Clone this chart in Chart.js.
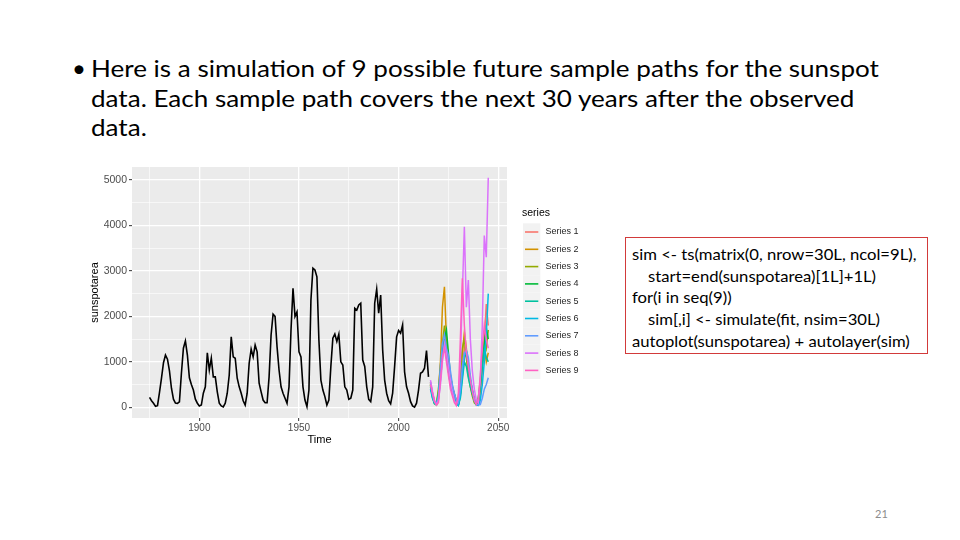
<!DOCTYPE html>
<html>
<head>
<meta charset="utf-8">
<script src="https://cdn.jsdelivr.net/npm/chart.js@4.4.0/dist/chart.umd.min.js"></script>
<style>
  html, body { margin: 0; padding: 0; background: #fff; }
  #slide { position: relative; width: 960px; height: 540px; overflow: hidden; font-family: Lato, "Liberation Sans", sans-serif; color: #000; }
  #dot { position: absolute; left: 72px; top: 53px; font-size: 24px; line-height: 29.5px; }
  #bullet { position: absolute; left: 91px; top: 53px; font-size: 24px; line-height: 29.5px; white-space: nowrap; transform: scaleX(1.085); transform-origin: 0 0; }
  #code { position: absolute; left: 625px; top: 237px; width: 301px; height: 115px; border: 1px solid #D23A3A; }
  #code div { position: absolute; left: 6px; font-size: 16px; line-height: 21.7px; white-space: pre; transform: scaleX(1.04); transform-origin: 0 0; }
  #page { position: absolute; left: 875px; top: 507px; font-size: 11px; color: #8C8C8C; }
  #chart { position: absolute; left: 0; top: 0; }
</style>
</head>
<body>
<div id="slide">
  <div id="dot">&bull;</div>
  <div id="bullet">Here is a simulation of 9 possible future sample paths for the sunspot<br>data. Each sample path covers the next 30 years after the observed<br>data.</div>
  <div id="code">
    <div style="top:5px">sim &lt;- ts(matrix(0, nrow=30L, ncol=9L),</div>
    <div style="top:26.7px;left:22px">start=end(sunspotarea)[1L]+1L)</div>
    <div style="top:48.4px">for(i in seq(9))</div>
    <div style="top:70.1px;left:22px">sim[,i] &lt;- simulate(fit, nsim=30L)</div>
    <div style="top:91.8px">autoplot(sunspotarea) + autolayer(sim)</div>
  </div>
  <div id="page">21</div>
  <canvas id="chart" width="960" height="540"></canvas>
</div>
<script>
// observed series, one value per year starting 1875
const obsStart = 1875;
const sunspotArea = [
  220, 145, 90, 20, 35,
  330, 640, 980, 1150, 1060, 800, 420, 180, 95, 85,
  120, 750, 1300, 1460, 1150, 650, 500, 380, 180, 90,
  30, 50, 310, 450, 1200, 820, 1080, 670, 670, 340,
  90, 30, 10, 90, 310, 710, 1550, 1110, 1080, 640,
  450, 310, 145, 50, 310, 970, 1280, 1110, 1370, 1220,
  530, 340, 160, 100, 100, 670, 1590, 2050, 2000, 1330,
  820, 450, 310, 200, 90, 450, 1700, 2620, 2000, 2100,
  1220, 1110, 450, 160, 15, 380, 2360, 3060, 3020, 2870,
  1480, 600, 380, 235, 50, 160, 900, 1520, 1610, 1450,
  1610, 1000, 930, 450, 380, 175, 200, 380, 2180, 2140,
  2250, 2290, 1040, 900, 450, 175, 125, 450, 2290, 2600,
  2070, 2470, 1260, 600, 310, 145, 75, 310, 900, 1550,
  1690, 1630, 1810, 780, 450, 310, 125, 30, 5, 90,
  380, 750, 780, 860, 1250, 670
];

// simulated paths, 30 years starting 2016
const simStart = 2016;
const sim1 = [560, 320, 150, 70, 200, 700, 1200, 1550, 1300, 900, 600, 400, 200, 80, 60, 300, 900, 1300, 1100, 800, 600, 400, 200, 80, 60, 300, 800, 1500, 2270, 1800];
const sim2 = [520, 280, 110, 60, 350, 1000, 2200, 2650, 1500, 1000, 700, 450, 250, 120, 100, 600, 1200, 1650, 1300, 800, 500, 300, 150, 60, 80, 400, 900, 1300, 1000, 1200];
const sim3 = [480, 250, 100, 90, 400, 900, 1400, 1800, 1300, 900, 600, 350, 200, 80, 150, 700, 1300, 1500, 1100, 700, 450, 250, 100, 60, 200, 600, 1000, 1500, 1300, 1700];
const sim4 = [500, 220, 80, 50, 250, 700, 1300, 1500, 1700, 1200, 700, 450, 300, 120, 60, 300, 800, 1100, 1200, 900, 600, 350, 150, 80, 120, 500, 1000, 1400, 1750, 1500];
const sim5 = [450, 260, 100, 70, 300, 800, 1200, 1350, 1100, 800, 500, 350, 280, 150, 50, 200, 600, 1000, 900, 650, 450, 300, 150, 90, 200, 500, 900, 1300, 1100, 1000];
const sim6 = [400, 200, 90, 60, 200, 600, 1100, 1400, 1200, 800, 500, 300, 180, 60, 40, 250, 700, 1100, 1250, 900, 600, 350, 150, 50, 40, 150, 500, 1000, 1600, 2500];
const sim7 = [550, 300, 120, 70, 250, 900, 1400, 1600, 1300, 1150, 800, 500, 300, 150, 100, 400, 900, 1200, 1250, 1100, 700, 400, 200, 80, 50, 60, 200, 400, 500, 650];
const sim8 = [600, 350, 150, 60, 150, 500, 1000, 1400, 1200, 900, 600, 350, 150, 60, 200, 1000, 2500, 3970, 2200, 2800, 1500, 800, 400, 150, 100, 600, 1800, 3780, 3300, 5050];
const sim9 = [500, 300, 130, 50, 100, 600, 1100, 1300, 1000, 700, 400, 250, 100, 40, 300, 1500, 2840, 1800, 1200, 900, 600, 350, 150, 60, 200, 700, 1300, 1800, 1500, 1300];

const simPaths = [sim1, sim2, sim3, sim4, sim5, sim6, sim7, sim8, sim9];
const seriesNames = ['Series 1', 'Series 2', 'Series 3', 'Series 4', 'Series 5', 'Series 6', 'Series 7', 'Series 8', 'Series 9'];
const seriesColors = ['#F8766D', '#D39200', '#93AA00', '#00BA38', '#00C19F', '#00B9E3', '#619CFF', '#DB72FB', '#FF61C3'];

// grid positions (major + minor) and which ones get a label
const xTickValues = [1875, 1900, 1925, 1950, 1975, 2000, 2025, 2050];
const yTickValues = [0, 500, 1000, 1500, 2000, 2500, 3000, 3500, 4000, 4500, 5000];
const xMajorStep = 50;
const yMajorStep = 1000;

function toPoints(start, values) {
  return values.map((v, i) => ({ x: start + i, y: v }));
}

const datasets = [{
  label: 'sunspotarea',
  data: toPoints(obsStart, sunspotArea),
  borderColor: '#000000',
  borderWidth: 1.6,
  order: 100
}];
simPaths.forEach((vals, i) => {
  datasets.push({
    label: seriesNames[i],
    data: toPoints(simStart, vals),
    borderColor: seriesColors[i],
    borderWidth: 1.5,
    order: 9 - i
  });
});

// grey panel like ggplot
const panelBg = {
  id: 'panelBg',
  beforeDraw(chart) {
    const { ctx, chartArea: a } = chart;
    ctx.save();
    ctx.fillStyle = '#EBEBEB';
    ctx.fillRect(a.left, a.top, a.right - a.left, a.bottom - a.top);
    ctx.restore();
  }
};

// legend drawn the ggplot way
const ggLegend = {
  id: 'ggLegend',
  afterDraw(chart) {
    const ctx = chart.ctx;
    const x0 = chart.chartArea.right + 16;
    ctx.save();
    ctx.textBaseline = 'middle';
    ctx.fillStyle = '#000';
    ctx.font = '10.5px "Liberation Sans"';
    ctx.fillText('series', x0 - 1, 213);
    seriesNames.forEach((name, i) => {
      const cy = 232 + i * 17.3;
      ctx.fillStyle = '#F2F2F2';
      ctx.fillRect(x0, cy - 8.65, 17.3, 17.3);
      ctx.strokeStyle = seriesColors[i];
      ctx.lineWidth = 1.6;
      ctx.beginPath();
      ctx.moveTo(x0 + 2, cy);
      ctx.lineTo(x0 + 15.3, cy);
      ctx.stroke();
      ctx.fillStyle = '#262626';
      ctx.font = '9px "Liberation Sans"';
      ctx.fillText(name, x0 + 22.5, cy);
    });
    ctx.restore();
  }
};

const xTickFont = { family: 'Liberation Sans', size: 10 };
const yTickFont = { family: 'Liberation Sans', size: 10.5 };
const titleFont = { family: 'Liberation Sans', size: 11 };

new Chart(document.getElementById('chart'), {
  type: 'line',
  data: { datasets: datasets },
  options: {
    responsive: false,
    animation: false,
    events: [],
    layout: { padding: { left: 88, right: 453, top: 167, bottom: 93 } },
    elements: { point: { radius: 0 }, line: { tension: 0 } },
    plugins: { legend: { display: false }, tooltip: { enabled: false } },
    scales: {
      x: {
        type: 'linear',
        min: 1866.2,
        max: 2054.4,
        border: { display: false },
        grid: {
          color: '#FFFFFF',
          lineWidth: c => (c.tick && c.tick.value % xMajorStep === 0 ? 1.3 : 0.6),
          tickColor: c => (c.tick && c.tick.value % xMajorStep === 0 ? '#333333' : 'rgba(0,0,0,0)'),
          tickWidth: 1,
          tickLength: 3
        },
        ticks: {
          autoSkip: false,
          maxRotation: 0,
          padding: 1,
          color: '#4D4D4D',
          font: xTickFont,
          callback: v => (v % xMajorStep === 0 ? String(v) : '')
        },
        afterBuildTicks: s => { s.ticks = xTickValues.map(v => ({ value: v })); },
        title: { display: true, text: 'Time', color: '#000', font: titleFont, padding: 0 },
        afterFit: s => { s.height = 29; }
      },
      y: {
        min: -235,
        max: 5286,
        border: { display: false },
        grid: {
          color: '#FFFFFF',
          lineWidth: c => (c.tick && c.tick.value % yMajorStep === 0 ? 1.3 : 0.6),
          tickColor: c => (c.tick && c.tick.value % yMajorStep === 0 ? '#333333' : 'rgba(0,0,0,0)'),
          tickWidth: 1,
          tickLength: 3
        },
        ticks: {
          autoSkip: false,
          padding: 2,
          color: '#4D4D4D',
          font: yTickFont,
          callback: v => (v % yMajorStep === 0 ? String(v) : '')
        },
        afterBuildTicks: s => { s.ticks = yTickValues.map(v => ({ value: v })); },
        title: { display: true, text: 'sunspotarea', color: '#000', font: titleFont, padding: 0 },
        afterFit: s => { s.width = 44; }
      }
    }
  },
  plugins: [panelBg, ggLegend]
});
</script>
</body>
</html>
